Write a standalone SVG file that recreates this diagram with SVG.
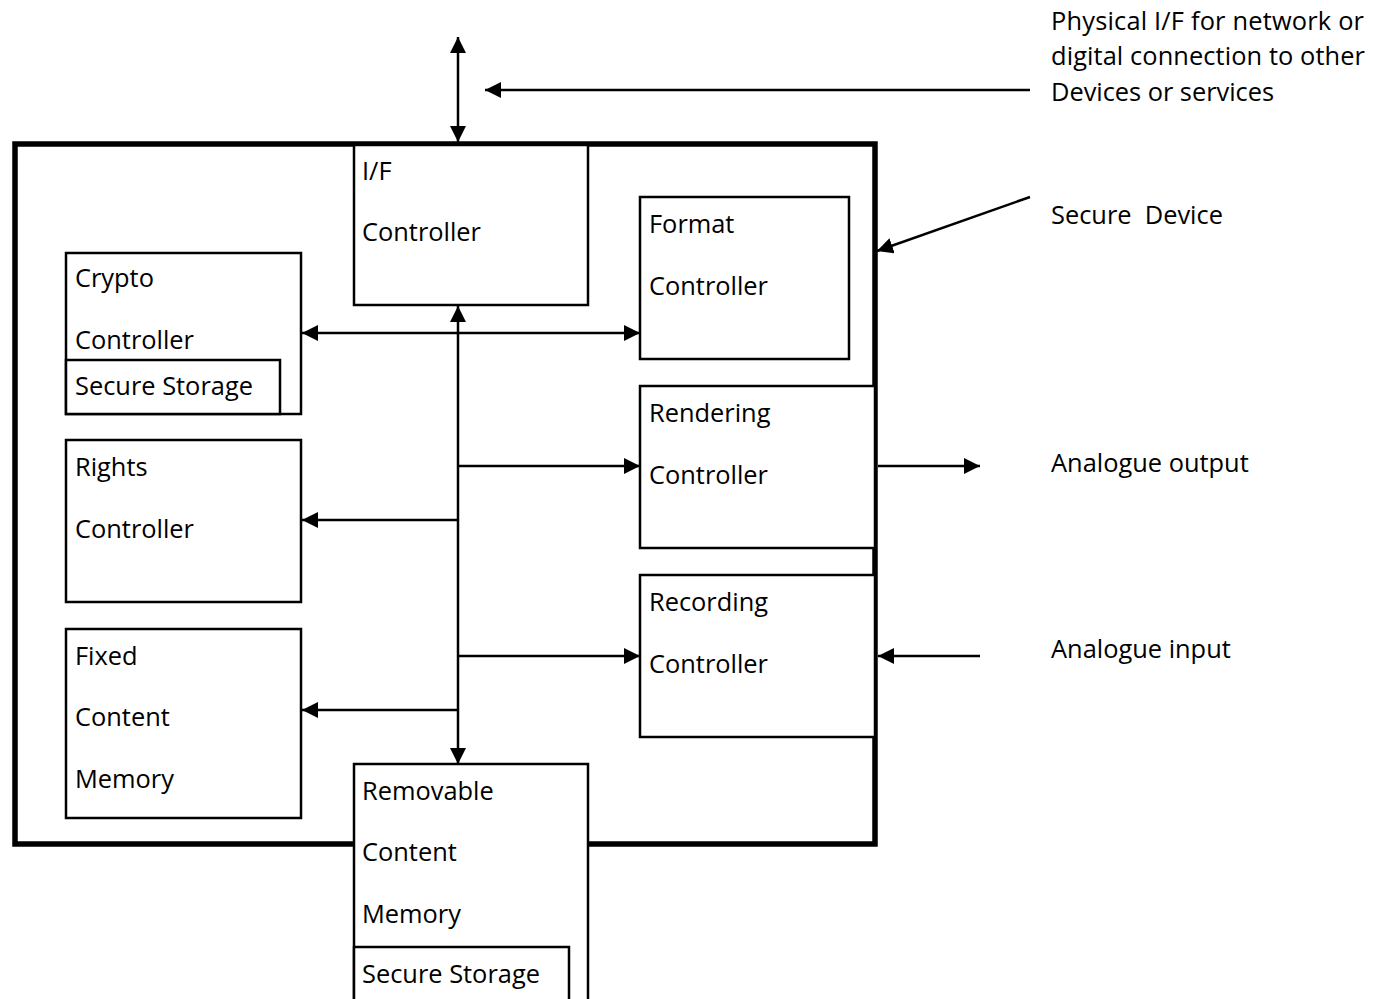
<svg xmlns="http://www.w3.org/2000/svg" width="1373" height="999" viewBox="0 0 1373 999">
  <style>
    .box { fill: #fff; stroke: #000; stroke-width: 2.5; }
    .frame { fill: none; stroke: #000; stroke-width: 5.5; }
    .lbl { font-family: "Open Sans", "Noto Sans", sans-serif; font-size: 25.4px; fill: #000; }
    .wire { fill: none; stroke: #000; stroke-width: 2.5; }
    .one { marker-end: url(#tip); }
    .two { marker-start: url(#tip); marker-end: url(#tip); }
  </style>
  <defs>
    <marker id="tip" markerUnits="userSpaceOnUse" markerWidth="17" markerHeight="16" refX="16" refY="8" orient="auto-start-reverse">
      <path d="M0,0 L16,8 L0,16 Z" fill="#000"/>
    </marker>
  </defs>

  <rect id="white-bg" x="0" y="0" width="1373" height="999" fill="#fff"/>

  <!-- Secure device enclosure -->
  <g id="secure-device">
    <rect class="frame" x="15" y="144" width="860" height="700"/>
  </g>

  <!-- Internal blocks -->
  <g id="if-controller">
    <rect class="box" x="354" y="145" width="234" height="160"/>
    <text class="lbl" x="362" y="180">I/F</text>
    <text class="lbl" x="362" y="241">Controller</text>
  </g>

  <g id="format-controller">
    <rect class="box" x="640" y="197" width="209" height="162"/>
    <text class="lbl" x="649" y="233">Format</text>
    <text class="lbl" x="649" y="295">Controller</text>
  </g>

  <g id="rendering-controller">
    <rect class="box" x="640" y="386" width="235" height="162"/>
    <text class="lbl" x="649" y="422">Rendering</text>
    <text class="lbl" x="649" y="484">Controller</text>
  </g>

  <g id="recording-controller">
    <rect class="box" x="640" y="575" width="235" height="162"/>
    <text class="lbl" x="649" y="611">Recording</text>
    <text class="lbl" x="649" y="673">Controller</text>
  </g>

  <g id="crypto-controller">
    <rect class="box" x="66" y="253" width="235" height="161"/>
    <text class="lbl" x="75" y="287">Crypto</text>
    <text class="lbl" x="75" y="349">Controller</text>
  </g>

  <g id="crypto-secure-storage">
    <rect class="box" x="66" y="360" width="214" height="54"/>
    <text class="lbl" x="75" y="395">Secure Storage</text>
  </g>

  <g id="rights-controller">
    <rect class="box" x="66" y="440" width="235" height="162"/>
    <text class="lbl" x="75" y="476">Rights</text>
    <text class="lbl" x="75" y="538">Controller</text>
  </g>

  <g id="fixed-content-memory">
    <rect class="box" x="66" y="629" width="235" height="189"/>
    <text class="lbl" x="75" y="665">Fixed</text>
    <text class="lbl" x="75" y="726">Content</text>
    <text class="lbl" x="75" y="788">Memory</text>
  </g>

  <g id="removable-content-memory">
    <rect class="box" x="354" y="764" width="234" height="250"/>
    <text class="lbl" x="362" y="800">Removable</text>
    <text class="lbl" x="362" y="861">Content</text>
    <text class="lbl" x="362" y="923">Memory</text>
  </g>

  <g id="removable-secure-storage">
    <rect class="box" x="354" y="947" width="215" height="70"/>
    <text class="lbl" x="362" y="983">Secure Storage</text>
  </g>

  <!-- External annotations -->
  <g id="note-physical-if">
    <text class="lbl" x="1051" y="30" textLength="313">Physical I/F for network or</text>
    <text class="lbl" x="1051" y="65" textLength="314">digital connection to other</text>
    <text class="lbl" x="1051" y="101" textLength="223">Devices or services</text>
  </g>
  <g id="note-secure-device">
    <text class="lbl" x="1051" y="224" xml:space="preserve">Secure  Device</text>
  </g>
  <g id="note-analogue-output">
    <text class="lbl" x="1051" y="472">Analogue output</text>
  </g>
  <g id="note-analogue-input">
    <text class="lbl" x="1051" y="658">Analogue input</text>
  </g>

  <!-- Connectors -->
  <g id="connectors">
    <line class="wire two" x1="458" y1="37" x2="458" y2="142"/>
    <line class="wire one" x1="1030" y1="90" x2="485" y2="90"/>
    <line class="wire one" x1="1030" y1="197" x2="877" y2="251"/>

    <line class="wire two" x1="458" y1="306" x2="458" y2="764"/>
    <line class="wire two" x1="302" y1="333" x2="640" y2="333"/>
    <line class="wire one" x1="458" y1="466" x2="640" y2="466"/>
    <line class="wire one" x1="458" y1="520" x2="302" y2="520"/>
    <line class="wire one" x1="458" y1="656" x2="640" y2="656"/>
    <line class="wire one" x1="458" y1="710" x2="302" y2="710"/>

    <line class="wire one" x1="878" y1="466" x2="980" y2="466"/>
    <line class="wire one" x1="980" y1="656" x2="878" y2="656"/>
  </g>
</svg>
